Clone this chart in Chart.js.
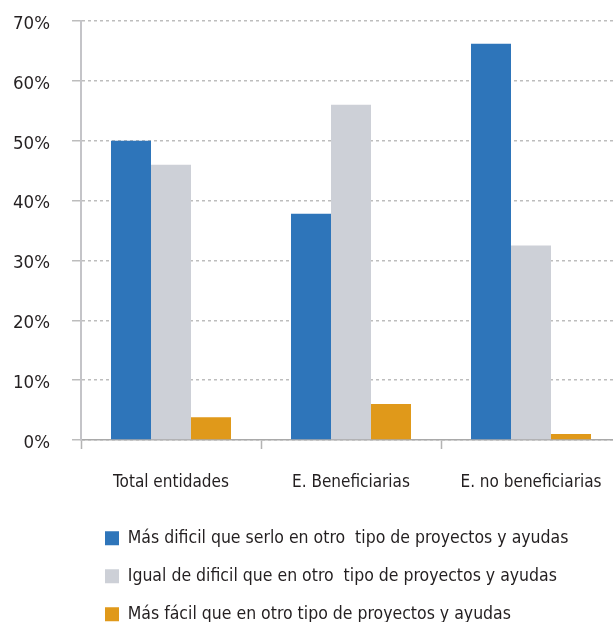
<!DOCTYPE html>
<html>
<head>
<meta charset="utf-8">
<script src="https://cdn.jsdelivr.net/npm/chart.js@4/dist/chart.umd.min.js"></script>
<style>
  html, body { margin: 0; padding: 0; background: #fff; overflow: hidden; }
  #wrap { width: 613px; height: 622px; overflow: hidden; }
</style>
</head>
<body>
<div id="wrap">
  <canvas id="myBarChart" width="621" height="633"></canvas>
</div>
<script>
var categories = ["Total entidades", "E. Beneficiarias", "E. no beneficiarias"];
var seriesNames = [
  "Más dificil que serlo en otro  tipo de proyectos y ayudas",
  "Igual de dificil que en otro  tipo de proyectos y ayudas",
  "Más fácil que en otro tipo de proyectos y ayudas"
];
var masDificil = [50, 37.8, 66.2];
var igual = [46, 56, 32.5];
var masFacil = [3.8, 6, 1];
var yTicks = [0, 10, 20, 30, 40, 50, 60, 70];

Chart.defaults.font.family = "'DejaVu Sans Condensed', 'Liberation Sans', sans-serif";
Chart.defaults.color = '#231f20';

// legend sits a bit right of the plot's left edge
var shiftLegend = {
  id: 'shiftLegend',
  afterLayout: function (chart) {
    chart.legend.left += 3.5;
    chart.legend.right += 3.5;
  }
};

function renderBarChart() {
  var ctx = document.getElementById("myBarChart");
  var myBarChart = new Chart(ctx, {
    type: 'bar',
    data: {
      labels: categories,
      datasets: [{
        label: seriesNames[0],
        data: masDificil,
        backgroundColor: '#2e75ba'
      }, {
        label: seriesNames[1],
        data: igual,
        backgroundColor: '#cdd0d7'
      }, {
        label: seriesNames[2],
        data: masFacil,
        backgroundColor: '#e0991a'
      }]
    },
    options: {
      responsive: false,
      animation: false,
      datasets: {
        bar: { categoryPercentage: 0.6667, barPercentage: 1 }
      },
      layout: { padding: { top: 21, left: 0, right: 0, bottom: 0 } },
      plugins: {
        tooltip: { enabled: false },
        legend: {
          position: 'bottom',
          align: 'start',
          fullSize: false,
          labels: {
            boxWidth: 14,
            boxHeight: 14,
            padding: 20.5,
            font: { size: 17.5 },
            color: '#231f20'
          }
        }
      },
      scales: {
        x: {
          grid: {
            drawOnChartArea: false,
            tickLength: 9,
            tickColor: '#b3b3b3',
            tickWidth: 1.5
          },
          border: { color: '#a9a9a9', width: 1.5 },
          ticks: {
            font: { size: 17 },
            padding: 23,
            color: '#231f20',
            maxRotation: 0,
            minRotation: 0,
            autoSkip: false
          },
          afterFit: function (scale) {
            scale.height = 69;
            scale.paddingLeft = 0;
            scale.paddingRight = 0;
          }
        },
        y: {
          min: 0,
          max: 70,
          afterBuildTicks: function (scale) {
            scale.ticks = yTicks.map(function (v) { return { value: v }; });
          },
          grid: {
            color: '#bdbdbd',
            lineWidth: 1.5,
            tickLength: 9,
            tickColor: '#bdbdbd',
            tickWidth: 1.5
          },
          border: { color: '#c4c4c8', width: 2, dash: [3, 3] },
          ticks: {
            font: { size: 18.5 },
            padding: 22,
            labelOffset: 3,
            color: '#231f20',
            callback: function (v) { return v + '%'; }
          },
          afterFit: function (scale) {
            scale.width = 81;
            scale.paddingTop = 0;
            scale.paddingBottom = 0;
          }
        }
      }
    },
    plugins: [shiftLegend]
  });
}

renderBarChart();
</script>
</body>
</html>
